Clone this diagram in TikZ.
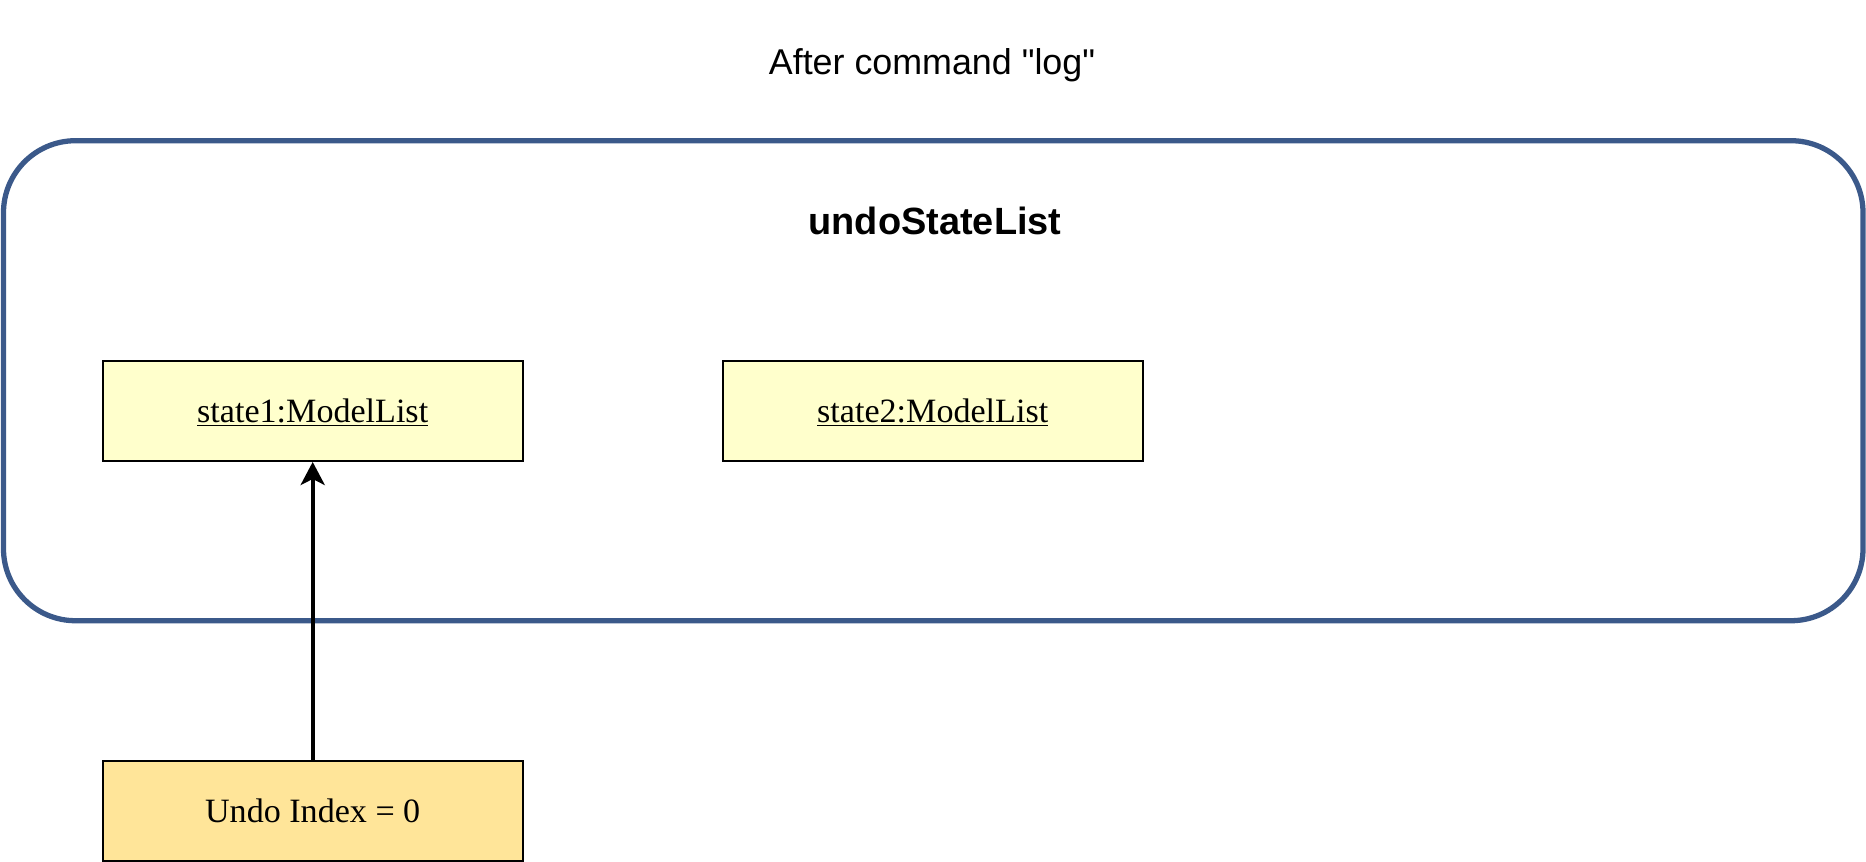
\documentclass[tikz,border=0pt]{standalone}
\usepackage{fontspec}
\setmainfont{Liberation Serif}
\newfontfamily\titlefont{Liberation Sans}
\usetikzlibrary{arrows.meta}
\definecolor{listblue}{RGB}{59,89,138}
\definecolor{statefill}{RGB}{255,255,204}
\definecolor{indexfill}{RGB}{255,229,153}
\begin{document}
\begin{tikzpicture}[x=0.02cm, y=-0.02cm,
    objbox/.style={draw=black, line width=1.1pt, minimum width=8.4cm, minimum height=2cm, inner sep=0pt, text depth=0pt, font=\fontsize{19.4}{23}\selectfont}]
    \useasboundingbox (0,0) rectangle (1866,862);
    \node (title) at (932,65) {\titlefont\fontsize{20.4}{24}\selectfont After command "log"};
    \draw[listblue, line width=3pt, rounded corners=1.44cm] (3.5,140.7) rectangle (1863,620.7);
    \node (listname) at (935,221) {\titlefont\bfseries\fontsize{21.6}{25}\selectfont undoStateList};
    \node[objbox, fill=statefill] (state1) at (312.7,411) {\underline{state1:ModelList}};
    \node[objbox, fill=statefill] (state2) at (932.7,411) {\underline{state2:ModelList}};
    \node[objbox, fill=indexfill] (undoindex) at (312.7,811) {Undo Index = 0};
    \draw[-{Stealth[length=0.46cm, width=0.48cm, inset=0.12cm]}, line width=2.3pt] (undoindex) -- (state1);
\end{tikzpicture}
\end{document}
